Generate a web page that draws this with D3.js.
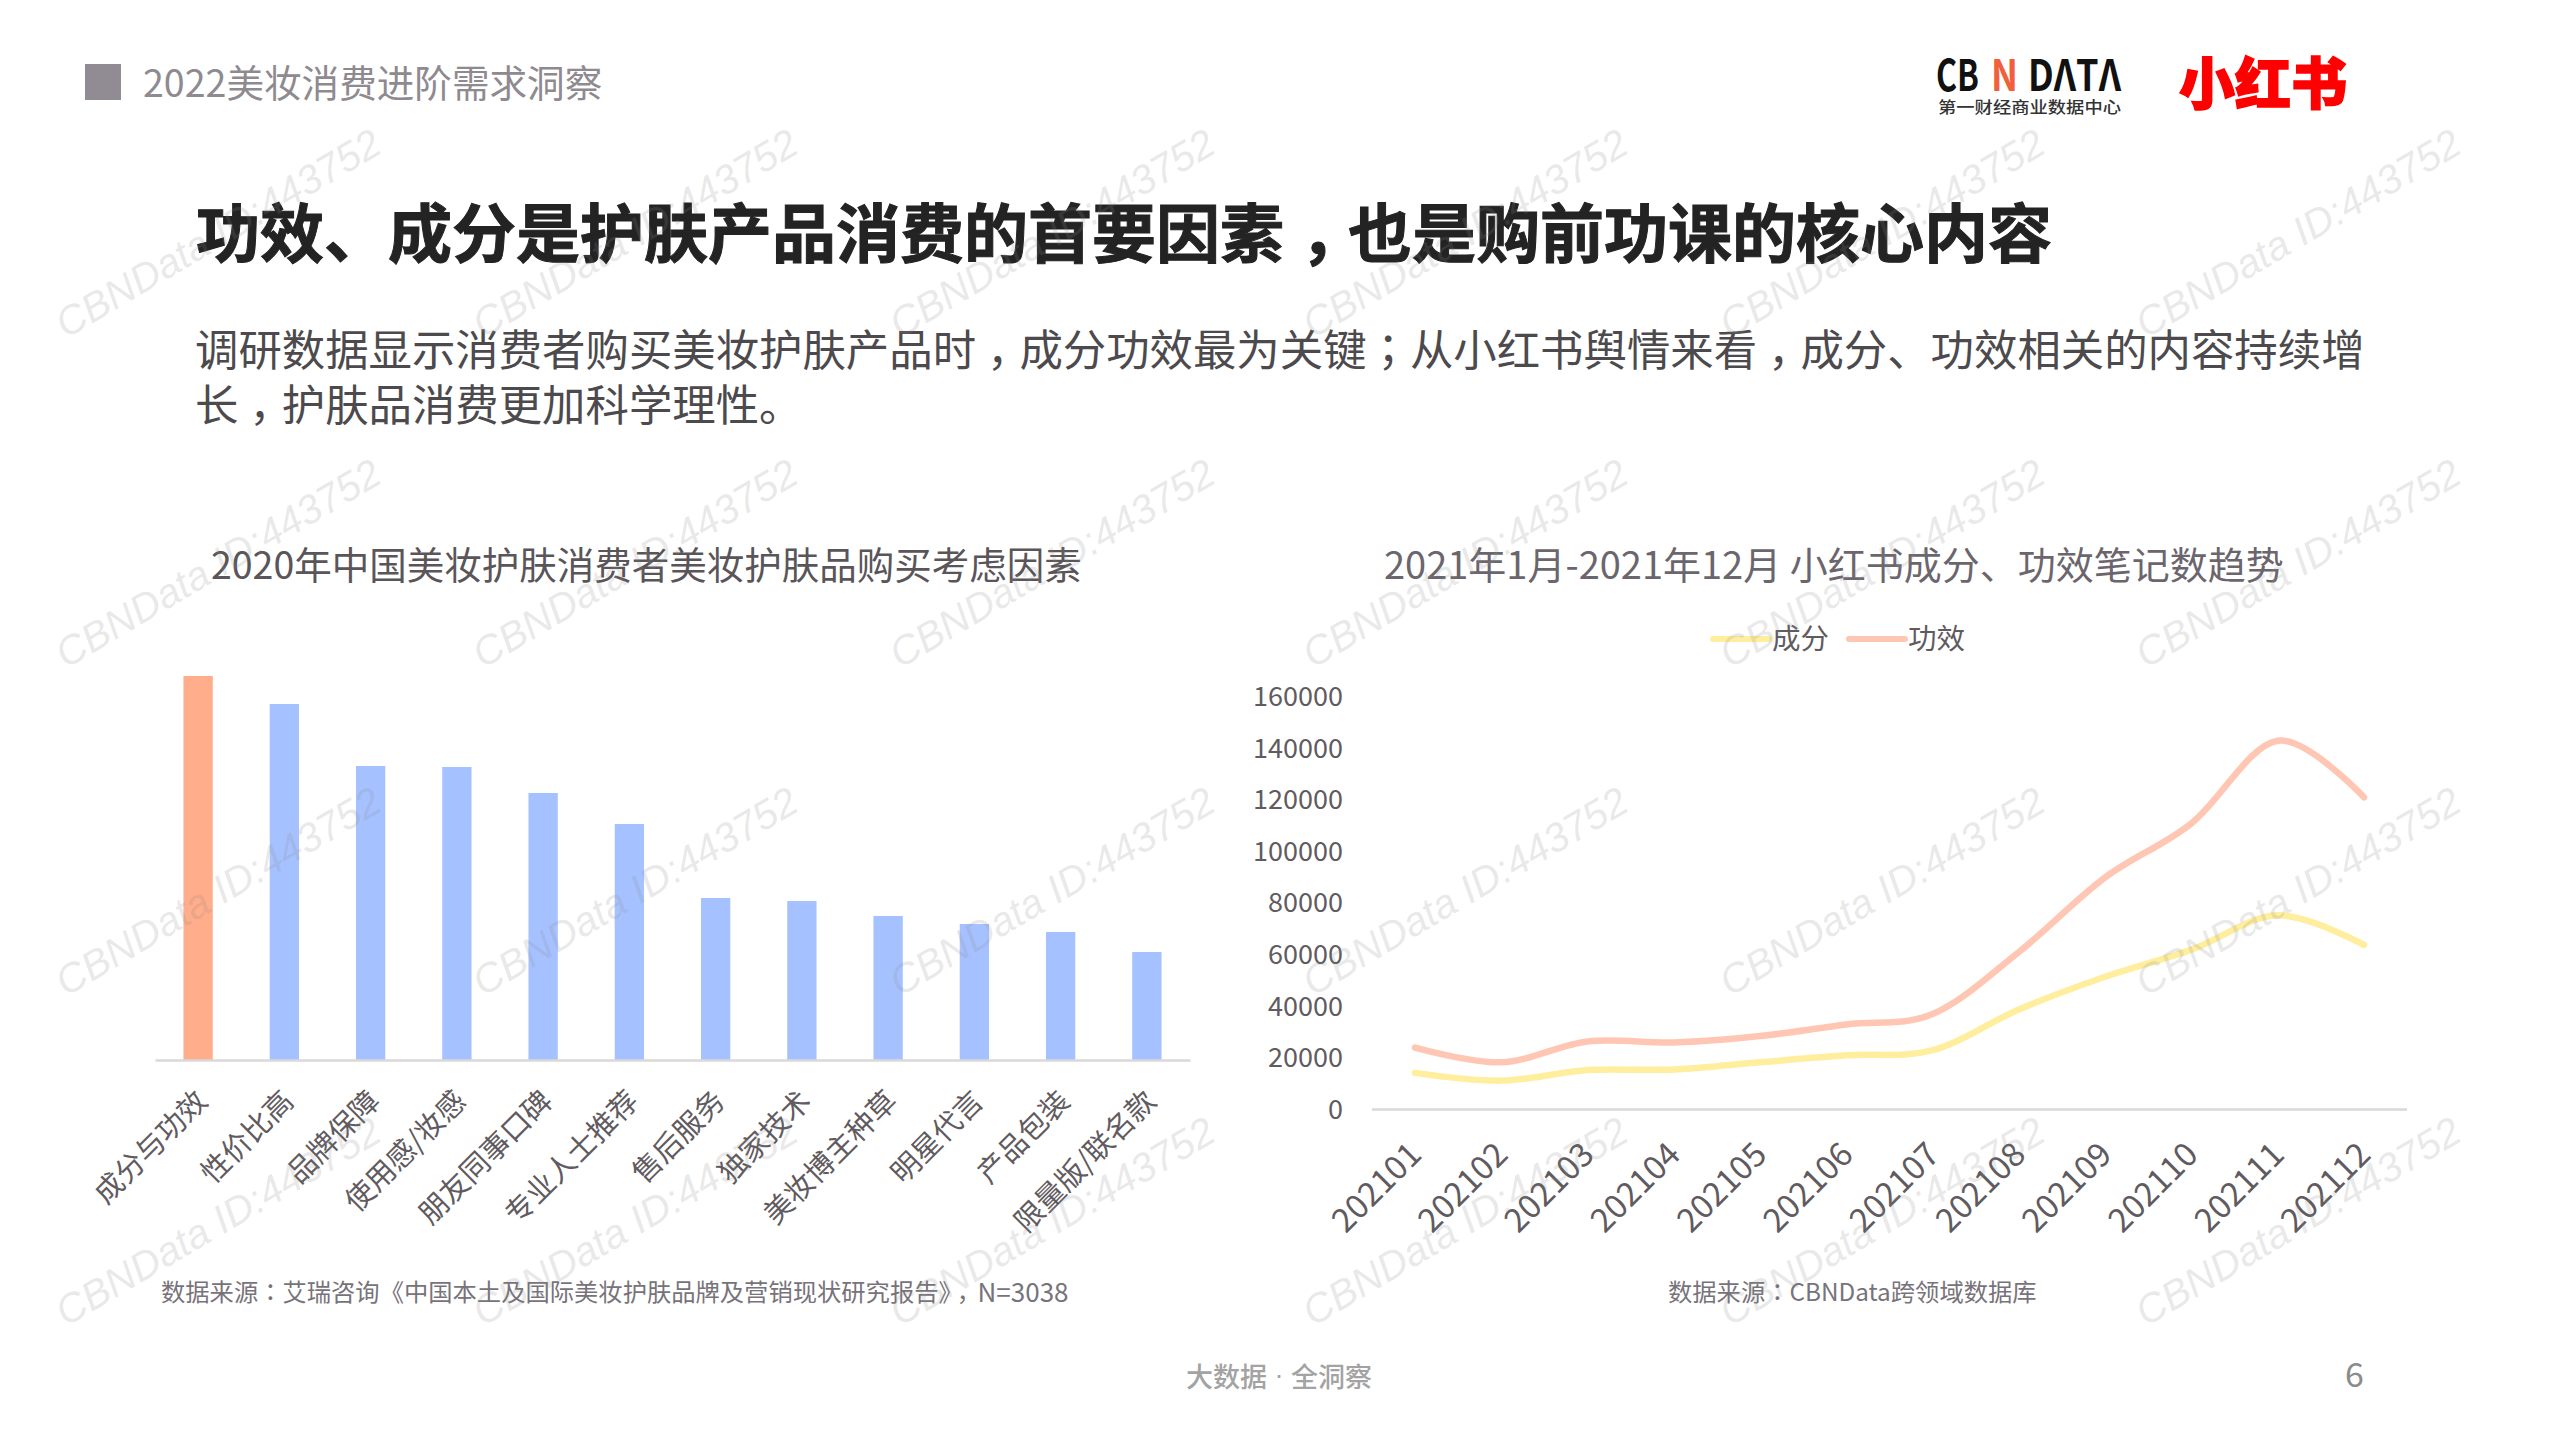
<!DOCTYPE html>
<html><head><meta charset="utf-8">
<script src="https://cdn.jsdelivr.net/npm/d3@7/dist/d3.min.js"></script>
<style>html,body{margin:0;padding:0;background:#fff}svg{display:block}text{font-family:"Noto Sans CJK SC","Noto Sans",sans-serif;font-feature-settings:"chws" 0,"halt" 0,"palt" 0;}</style>
</head><body><svg id="c" width="2559" height="1439"></svg>
<script>
const barCategories=["成分与功效","性价比高","品牌保障","使用感/妆感","朋友同事口碑","专业人士推荐","售后服务","独家技术","美妆博主种草","明星代言","产品包装","限量版/联名款"];
const barValues=[76.8,71.2,58.8,58.6,53.4,47.2,32.4,31.8,28.8,27.2,25.6,21.6];
const months=["202101","202102","202103","202104","202105","202106","202107","202108","202109","202110","202111","202112"];
const chengfen=[14200,11200,15300,15500,18300,21000,23000,38800,51500,62000,75300,63900];
const gongxiao=[24000,18300,26400,26000,28500,33000,37000,61100,90000,111000,143000,121100];
const yTicks=[0,20000,40000,60000,80000,100000,120000,140000,160000];
const legendNames=["成分","功效"];
const svg=d3.select("#c");
const txtC="#5f5b60";
function T(s,x,y,size,fill,opt={}){const t=svg.append("text").attr("x",x).attr("y",y).attr("font-size",size).attr("fill",fill).attr("dominant-baseline","central");
 s.split(/([，；：])/).forEach(p=>{if(!p)return;const sp=t.append("tspan").text(p);
  if(p==="，"){sp.attr("dx","0.25em").style("letter-spacing","-0.25em");}
  else if(/^[；：]$/.test(p))sp.style("font-family",'"Noto Sans CJK TC"');});
 if(opt.w)t.attr("font-weight",opt.w);if(opt.a)t.attr("text-anchor",opt.a);if(opt.ls)t.attr("letter-spacing",opt.ls);
 if(opt.tl)t.attr("textLength",opt.tl).attr("lengthAdjust","spacingAndGlyphs");
 if(opt.sw)t.attr("stroke",fill).attr("stroke-width",opt.sw);return t;}
// header
svg.append("rect").attr("x",85).attr("y",64).attr("width",36).attr("height",36).attr("fill","#918c94");
T("2022美妆消费进阶需求洞察",143,80,37.6,"#8e8a90");
T("功效、成分是护肤产品消费的首要因素，也是购前功课的核心内容",196,229,64,"#232323",{w:700,sw:1});
T("调研数据显示消费者购买美妆护肤产品时，成分功效最为关键；从小红书舆情来看，成分、功效相关的内容持续增",195,346.5,43.4,"#4c4a4d");
T("长，护肤品消费更加科学理性。",195,402,43.4,"#4c4a4d");
T("2020年中国美妆护肤消费者美妆护肤品购买考虑因素",211,562,37.5,"#595559");
T("2021年1月-2021年12月 小红书成分、功效笔记数趋势",1384,562,38,"#6b666d");
// logos
T("CB",1936,72,43,"#111",{w:700,tl:43});
T("N",1991,72,43,"#f0603c",{w:700,tl:27});
T("DΛTΛ",2028,72,43,"#111",{w:700,tl:93});
T("第一财经商业数据中心",1938,106,15.5,"#333",{w:500,tl:183});
T("小红书",2179,79,56,"#ff0000",{w:900,sw:1.5});
// bar chart
const bx=d3.scaleBand().domain(barCategories).range([155,1190]).paddingInner(0.66).paddingOuter(0.33);
const by=d3.scaleLinear().domain([0,100]).range([1060,560]);
svg.append("g").selectAll("rect").data(barValues).join("rect")
 .attr("x",(d,i)=>bx(barCategories[i])).attr("width",bx.bandwidth())
 .attr("y",d=>by(d)).attr("height",d=>by(0)-by(d)).attr("fill",(d,i)=>i===0?"#FFAD8A":"#A6C1FF");
const bax=svg.append("g").attr("transform","translate(0,1060)").call(d3.axisBottom(bx).tickSize(0));
bax.select(".domain").attr("stroke","#d9d9d9").attr("stroke-width",2.5);
bax.selectAll("text").attr("font-size",29).attr("fill",txtC).attr("font-family",'"Noto Sans CJK SC"').attr("text-anchor","end").attr("dy",0).attr("y",0).attr("transform","translate(11,43) rotate(-45)");
// line chart
const lx=d3.scalePoint().domain(months).range([1415,2364]);
const ly=d3.scaleLinear().domain([0,160000]).range([1109.5,697]);
const yax=svg.append("g").attr("transform","translate(1347,0)").call(d3.axisLeft(ly).tickValues(yTicks).tickFormat(d3.format("d")).tickSize(0).tickPadding(4));
yax.select(".domain").remove();
yax.selectAll("text").attr("font-size",27).attr("fill",txtC).attr("font-family",'"Noto Sans CJK SC"');
const lax=svg.append("g").attr("transform","translate(0,1109.5)").call(d3.axisBottom(lx).tickSize(0));
lax.select(".domain").attr("d","M1372,0H2407").attr("stroke","#d9d9d9").attr("stroke-width",2.5);
lax.selectAll("text").attr("font-size",33).attr("fill",txtC).attr("font-family",'"Noto Sans CJK SC"').attr("text-anchor","end").attr("dy",0).attr("y",0).attr("transform","translate(8,47) rotate(-45)");
const line=d3.line().x((d,i)=>lx(months[i])).y(d=>ly(d)).curve(d3.curveCatmullRom.alpha(0));
svg.append("path").datum(chengfen).attr("d",line).attr("fill","none").attr("stroke","#FFEE9E").attr("stroke-width",6.5).attr("stroke-linecap","round");
svg.append("path").datum(gongxiao).attr("d",line).attr("fill","none").attr("stroke","#FFC7B3").attr("stroke-width",6.5).attr("stroke-linecap","round");
// legend
[[1713,"#FFEE9E"],[1849,"#FFC7B3"]].forEach((l,i)=>{
 svg.append("line").attr("x1",l[0]).attr("x2",l[0]+56).attr("y1",639).attr("y2",639).attr("stroke",l[1]).attr("stroke-width",6).attr("stroke-linecap","round");
 T(legendNames[i],l[0]+59,636,28.5,txtC);
});
// sources / footer
const s1=T("数据来源：艾瑞咨询《中国本土及国际美妆护肤品牌及营销现状研究报告》，",161,1290,24.3,"#77737a");
s1.append("tspan").attr("dx","0.1em").attr("font-size",26).text("N=3038");
T("数据来源：CBNData跨领域数据库",1668,1290,24.3,"#77737a");
const ft=T("大数据",1186,1375,27,"#a3a3a3",{w:500});
ft.append("tspan").style("font-family",'"Liberation Sans"').text(" · ");
ft.append("tspan").text("全洞察");
T("6",2345,1372,34,"#8b8b8b");
// watermark
const wmX=[57,474,891,1304,1721,2137], wmY=[333,663,991,1321];
wmY.forEach(y=>wmX.forEach(x=>{
 svg.append("text").attr("transform",`translate(${x+9},${y+6}) rotate(-30.5)`).attr("font-size",40.5).attr("font-style","italic")
 .attr("style",'font-family:"Liberation Sans"').attr("fill","#8c8c8c").attr("fill-opacity",0.2).text("CBNData ID:443752");
}));
</script></body></html>
